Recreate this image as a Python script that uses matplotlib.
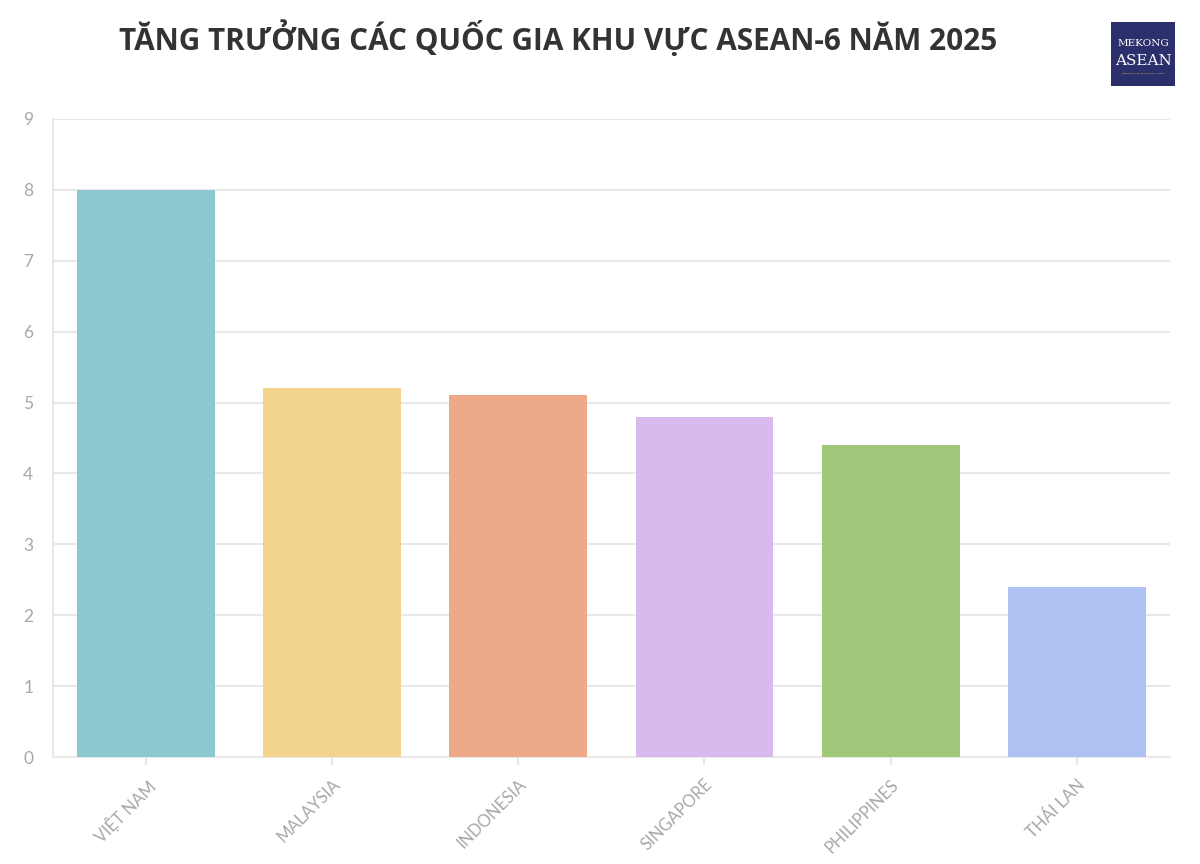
import matplotlib
matplotlib.use('Agg')
import matplotlib.pyplot as plt
from matplotlib.patches import Rectangle

countries = ['VIỆT NAM', 'MALAYSIA', 'INDONESIA', 'SINGAPORE', 'PHILIPPINES', 'THÁI LAN']
growth = [8.0, 5.2, 5.1, 4.8, 4.4, 2.4]
colors = ['#8cc8d0', '#f2d48c', '#eeaa88', '#d8baee', '#a0c87a', '#adc2f0']

fig = plt.figure(figsize=(12, 8.64), dpi=100)
ax = fig.add_axes([0.044, 0.1238, 0.931, 0.7385])

x = range(len(countries))
ax.bar(x, growth, width=0.74, color=colors, zorder=3)

ax.set_xlim(-0.5, len(countries) - 0.5)
ax.set_ylim(0, 9)
ax.set_yticks(range(0, 10))
ax.set_xticks(list(x))
ax.set_xticklabels(countries, rotation=45, ha='right', rotation_mode='anchor',
                   fontfamily='Lato', fontsize=12, color='#a8a8a8')
for lab in ax.get_yticklabels():
    lab.set_fontfamily('Lato')
    lab.set_fontsize(12.5)
    lab.set_color('#a8a8a8')

ax.grid(axis='y', color='#e8e8e8', linewidth=1.5, zorder=0)
for s in ['top', 'right']:
    ax.spines[s].set_visible(False)
ax.spines['left'].set_color('#e8e8e8')
ax.spines['left'].set_linewidth(1.5)
ax.spines['bottom'].set_color('#e8e8e8')
ax.spines['bottom'].set_linewidth(1.5)
ax.tick_params(axis='y', length=0, pad=14)
ax.tick_params(axis='x', length=6, color='#e8e8e8', width=1.5, pad=8)

fig.text(0.465, 0.955, 'TĂNG TRƯỞNG CÁC QUỐC GIA KHU VỰC ASEAN-6 NĂM 2025',
         ha='center', va='center', fontfamily='Open Sans', fontweight='bold',
         fontsize=21.4, color='#333333')

# logo
fig.patches.append(Rectangle((1111 / 1200, 1 - 86 / 864), 64 / 1200, 64 / 864,
                             transform=fig.transFigure, facecolor='#2b2f6b',
                             edgecolor='none'))
fig.text(1143 / 1200, 1 - 44 / 864, 'MEKONG', ha='center', va='center',
         fontfamily='DejaVu Serif', fontsize=7.5, color='white')
fig.text(1143 / 1200, 1 - 61 / 864, 'ASEAN', ha='center', va='center',
         fontfamily='DejaVu Serif', fontsize=11, color='white')
fig.text(1143 / 1200, 1 - 74 / 864, 'DIỄN ĐÀN KINH TẾ VIỆT NAM - ASEAN', ha='center',
         va='center', fontfamily='DejaVu Sans', fontsize=1.6, color='#e8c870')

fig.savefig('out.png', dpi=100, facecolor='white')
